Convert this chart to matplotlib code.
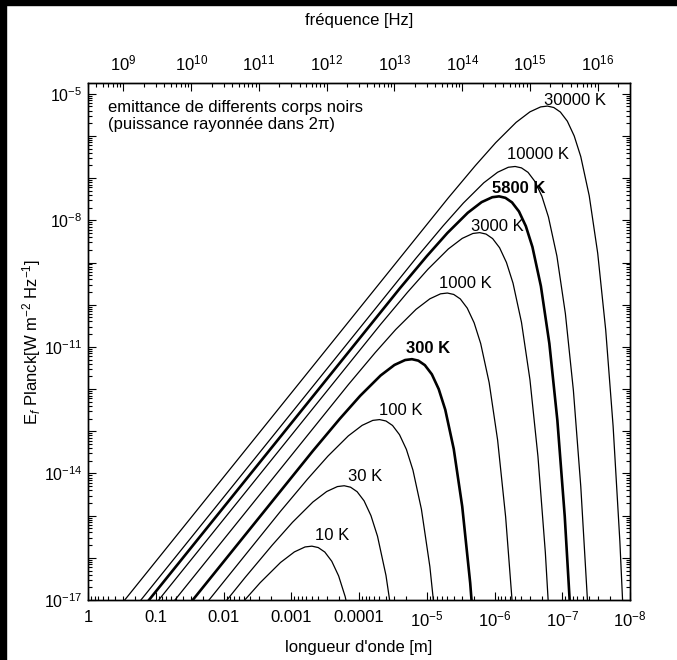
import matplotlib
matplotlib.use("Agg")
import matplotlib.pyplot as plt
from matplotlib.ticker import FixedLocator, FixedFormatter, LogLocator, NullFormatter
from matplotlib.patches import Rectangle

plt.rcParams['font.family'] = ['Liberation Sans', 'DejaVu Sans']
plt.rcParams['mathtext.fontset'] = 'custom'
plt.rcParams['mathtext.rm'] = 'Liberation Sans'
plt.rcParams['mathtext.it'] = 'Liberation Sans:italic'
plt.rcParams['mathtext.bf'] = 'Liberation Sans:bold'

# Curves: wavelength [m] and value [W m-2 Hz-1]
lam_10 = [5.755e-3, 2.878e-3, 1.439e-3, 8.992e-4, 6.256e-4, 4.961e-4, 3.997e-4, 3.197e-4, 2.524e-4, 1.998e-4, 1.599e-4, 1.199e-4]
val_10 = [7.34e-18, 2.57e-17, 7.76e-17, 1.38e-16, 1.81e-16, 1.89e-16, 1.75e-16, 1.37e-16, 8.29e-17, 3.72e-17, 1.20e-17, 1.42e-18]

lam_30 = [1.0, 4.796e-3, 1.918e-3, 9.592e-4, 4.796e-4, 2.997e-4, 2.085e-4, 1.654e-4, 1.332e-4, 1.066e-4, 8.414e-5, 6.661e-5, 5.329e-5, 3.997e-5, 2.997e-5]
val_30 = [8.28e-22, 3.42e-17, 1.98e-16, 6.94e-16, 2.10e-15, 3.73e-15, 4.88e-15, 5.11e-15, 4.72e-15, 3.69e-15, 2.24e-15, 1.00e-15, 3.24e-16, 3.82e-17, 1.66e-18]

lam_100 = [1.0, 1.439e-3, 5.755e-4, 2.878e-4, 1.439e-4, 8.992e-5, 6.256e-5, 4.961e-5, 3.997e-5, 3.197e-5, 2.524e-5, 1.998e-5, 1.599e-5, 1.199e-5, 8.992e-6, 6.851e-6]
val_100 = [2.76e-21, 1.27e-15, 7.34e-15, 2.57e-14, 7.76e-14, 1.38e-13, 1.81e-13, 1.89e-13, 1.75e-13, 1.37e-13, 8.29e-14, 3.72e-14, 1.20e-14, 1.42e-15, 6.15e-17, 9.37e-19]

lam_300 = [1.0, 4.796e-4, 1.918e-4, 9.592e-5, 4.796e-5, 2.997e-5, 2.085e-5, 1.654e-5, 1.332e-5, 1.066e-5, 8.414e-6, 6.661e-6, 5.329e-6, 3.997e-6, 2.997e-6, 2.284e-6, 1.776e-6]
val_300 = [8.28e-21, 3.42e-14, 1.98e-13, 6.94e-13, 2.10e-12, 3.73e-12, 4.88e-12, 5.11e-12, 4.72e-12, 3.69e-12, 2.24e-12, 1.00e-12, 3.24e-13, 3.82e-14, 1.66e-15, 2.53e-17, 1.33e-19]

lam_1000 = [1.0, 1.439e-4, 5.755e-5, 2.878e-5, 1.439e-5, 8.992e-6, 6.256e-6, 4.961e-6, 3.997e-6, 3.197e-6, 2.524e-6, 1.998e-6, 1.599e-6, 1.199e-6, 8.992e-7, 6.851e-7, 5.329e-7]
val_1000 = [2.76e-20, 1.27e-12, 7.34e-12, 2.57e-11, 7.76e-11, 1.38e-10, 1.81e-10, 1.89e-10, 1.75e-10, 1.37e-10, 8.29e-11, 3.72e-11, 1.20e-11, 1.42e-12, 6.15e-14, 9.37e-16, 4.94e-18]

lam_3000 = [1.0, 4.796e-5, 1.918e-5, 9.592e-6, 4.796e-6, 2.997e-6, 2.085e-6, 1.654e-6, 1.332e-6, 1.066e-6, 8.414e-7, 6.661e-7, 5.329e-7, 3.997e-7, 2.997e-7, 2.284e-7, 1.776e-7, 1.411e-7]
val_3000 = [8.28e-20, 3.42e-11, 1.98e-10, 6.94e-10, 2.10e-9, 3.73e-9, 4.88e-9, 5.11e-9, 4.72e-9, 3.69e-9, 2.24e-9, 1.00e-9, 3.24e-10, 3.82e-11, 1.66e-12, 2.53e-14, 1.33e-16, 2.43e-19]

lam_5800 = [1.0, 2.481e-5, 9.923e-6, 4.961e-6, 2.481e-6, 1.550e-6, 1.079e-6, 8.554e-7, 6.891e-7, 5.513e-7, 4.352e-7, 3.445e-7, 2.756e-7, 2.067e-7, 1.550e-7, 1.181e-7, 9.188e-8, 7.296e-8]
val_5800 = [1.60e-19, 2.47e-10, 1.43e-9, 5.01e-9, 1.51e-8, 2.70e-8, 3.53e-8, 3.70e-8, 3.41e-8, 2.66e-8, 1.62e-8, 7.26e-9, 2.34e-9, 2.76e-10, 1.20e-11, 1.83e-13, 9.63e-16, 1.75e-18]

lam_10000 = [1.0, 1.439e-5, 5.755e-6, 2.878e-6, 1.439e-6, 8.992e-7, 6.256e-7, 4.961e-7, 3.997e-7, 3.197e-7, 2.524e-7, 1.998e-7, 1.599e-7, 1.199e-7, 8.992e-8, 6.851e-8, 5.329e-8, 4.232e-8]
val_10000 = [2.76e-19, 1.27e-9, 7.34e-9, 2.57e-8, 7.76e-8, 1.38e-7, 1.81e-7, 1.89e-7, 1.75e-7, 1.37e-7, 8.29e-8, 3.72e-8, 1.20e-8, 1.42e-9, 6.15e-11, 9.37e-13, 4.94e-15, 8.99e-18]

lam_30000 = [1.0, 4.796e-6, 1.918e-6, 9.592e-7, 4.796e-7, 2.997e-7, 2.085e-7, 1.654e-7, 1.332e-7, 1.066e-7, 8.414e-8, 6.661e-8, 5.329e-8, 3.997e-8, 2.997e-8, 2.284e-8, 1.776e-8, 1.411e-8, 1.142e-8]
val_30000 = [8.28e-19, 3.42e-8, 1.98e-7, 6.94e-7, 2.10e-6, 3.73e-6, 4.88e-6, 5.11e-6, 4.72e-6, 3.69e-6, 2.24e-6, 1.00e-6, 3.24e-7, 3.82e-8, 1.66e-9, 2.53e-11, 1.33e-13, 2.43e-16, 1.53e-19]

curve_labels = ['10 K', '30 K', '100 K', '300 K', '1000 K', '3000 K', '5800 K', '10000 K', '30000 K']
bold_curves = ['300 K', '5800 K']
# label centres in axes fractions
label_pos = [(0.450, 0.124), (0.511, 0.238), (0.5775, 0.366), (0.627, 0.4855), (0.697, 0.613),
             (0.755, 0.7215), (0.795, 0.795), (0.830, 0.861), (0.8985, 0.9652)]

wl_ticks = [1, 0.1, 0.01, 0.001, 1e-4, 1e-5, 1e-6, 1e-7, 1e-8]
wl_ticklabels = ['1', '0.1', '0.01', '0.001', '0.0001', '$10^{-5}$', '$10^{-6}$', '$10^{-7}$', '$10^{-8}$']
freq_ticks = [1e9, 1e10, 1e11, 1e12, 1e13, 1e14, 1e15, 1e16]
freq_ticklabels = ['$10^{9}$', '$10^{10}$', '$10^{11}$', '$10^{12}$', '$10^{13}$', '$10^{14}$', '$10^{15}$', '$10^{16}$']
y_ticks = [10.0 ** e for e in range(-17, -4)]
y_ticklabels = ['$10^{%d}$' % e if e in (-17, -14, -11, -8, -5) else '' for e in range(-17, -4)]

curves = [(lam_10, val_10), (lam_30, val_30), (lam_100, val_100), (lam_300, val_300),
          (lam_1000, val_1000), (lam_3000, val_3000), (lam_5800, val_5800),
          (lam_10000, val_10000), (lam_30000, val_30000)]

FS = 12
fig = plt.figure(figsize=(6.77, 6.60), dpi=100)
ax = fig.add_axes([88 / 677, 60 / 660, 542 / 677, 517 / 660])

for (lam, val), name in zip(curves, curve_labels):
    lw = 1.9 if name in bold_curves else 0.9
    ax.plot(lam, val, color='black', lw=lw, solid_joinstyle='round')

ax.set_xscale('log')
ax.set_yscale('log')
ax.set_xlim(1, 1e-8)
ax.set_ylim(1e-17, 1.8e-5)

# curve labels
for name, (fx, fy) in zip(curve_labels, label_pos):
    ax.text(fx, fy, name, transform=ax.transAxes, ha='center', va='center', fontsize=FS,
            fontweight='bold' if name in bold_curves else 'normal')

ax.text(0.037, 0.967, "emittance de differents corps noirs\n(puissance rayonnée dans 2π)",
        transform=ax.transAxes, ha='left', va='top', fontsize=FS, linespacing=1.2)

# bottom / left ticks
ax.xaxis.set_major_locator(FixedLocator(wl_ticks))
ax.xaxis.set_major_formatter(FixedFormatter(wl_ticklabels))
ax.xaxis.set_minor_locator(LogLocator(base=10, subs=range(2, 10), numticks=50))
ax.xaxis.set_minor_formatter(NullFormatter())
ax.yaxis.set_major_locator(FixedLocator(y_ticks))
ax.yaxis.set_major_formatter(FixedFormatter(y_ticklabels))
ax.yaxis.set_minor_locator(LogLocator(base=10, subs=range(2, 10), numticks=50))
ax.yaxis.set_minor_formatter(NullFormatter())
ax.tick_params(which='both', direction='in', top=False, right=True, labelsize=FS, width=0.8)
ax.tick_params(which='major', length=6)
ax.tick_params(which='minor', length=3)
ax.tick_params(axis='x', which='major', pad=7)
ax.tick_params(axis='y', which='major', pad=4, labelsize=11.5)

ax.set_xlabel("longueur d'onde [m]", fontsize=FS)
ax.xaxis.set_label_coords(0.5, -0.077)
ax.set_ylabel("E$_f$ Planck[W m$^{-2}$ Hz$^{-1}$]", fontsize=FS)
ax.yaxis.set_label_coords(-0.083, 0.5)

# frequency axis on top
top = ax.twiny()
top.set_xscale('log')
top.set_xlim(2.998e8, 2.998e16)
top.xaxis.set_major_locator(FixedLocator(freq_ticks))
top.xaxis.set_major_formatter(FixedFormatter(freq_ticklabels))
top.xaxis.set_minor_locator(LogLocator(base=10, subs=range(2, 10), numticks=50))
top.xaxis.set_minor_formatter(NullFormatter())
top.tick_params(which='both', direction='in', labelsize=FS, width=0.8)
top.tick_params(which='major', length=6, pad=7)
top.tick_params(which='minor', length=3)
top.set_xlabel("fréquence [Hz]", fontsize=FS)
top.xaxis.set_label_coords(0.5, 1.112)

for a in (ax, top):
    for s in a.spines.values():
        s.set_linewidth(1.0)

# dark frame strips at the picture edges
fig.patches.append(Rectangle((0, 0), 6 / 677, 1, transform=fig.transFigure, color='black', zorder=10))
fig.patches.append(Rectangle((0, 1 - 5 / 660), 1, 5 / 660, transform=fig.transFigure, color='black', zorder=10))

fig.savefig('out.png', dpi=100)
